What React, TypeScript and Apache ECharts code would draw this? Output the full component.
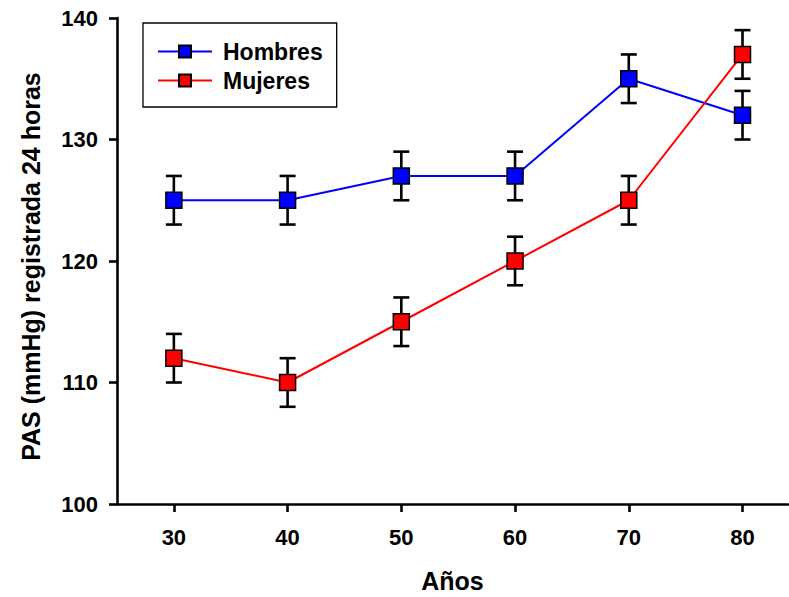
import React, { useEffect, useRef } from "react";
import * as echarts from "echarts";

const ages = [30, 40, 50, 60, 70, 80];
const hombres = [125, 125, 127, 127, 135, 132];
const hombresErr = [2, 2, 2, 2, 2, 2];
const mujeres = [112, 110, 115, 120, 125, 137];
const mujeresErr = [2, 2, 2, 2, 2, 2];
const yTicks = [100, 110, 120, 130, 140];

const FONT = "'Liberation Sans', Arial, sans-serif";

function errorSeries(name: string, vals: number[], errs: number[]) {
  const data = ages.map((a, i) => [a, vals[i] - errs[i], vals[i] + errs[i]]);
  return {
    type: "custom",
    name: name + "_err",
    z: 1,
    silent: true,
    data,
    encode: { x: 0, y: [1, 2] },
    renderItem: (params: any, api: any) => {
      const x = api.value(0);
      const lo = api.coord([x, api.value(1)]);
      const hi = api.coord([x, api.value(2)]);
      const w = 8;
      const style = { stroke: "#000", lineWidth: 2.6 };
      return {
        type: "group",
        children: [
          { type: "line", shape: { x1: lo[0], y1: lo[1], x2: hi[0], y2: hi[1] }, style },
          { type: "line", shape: { x1: lo[0] - w, y1: lo[1], x2: lo[0] + w, y2: lo[1] }, style },
          { type: "line", shape: { x1: hi[0] - w, y1: hi[1], x2: hi[0] + w, y2: hi[1] }, style },
        ],
      };
    },
  };
}

export default function App() {
  const ref = useRef<HTMLDivElement>(null);
  useEffect(() => {
    const chart = echarts.init(ref.current!, null, { renderer: "svg" });
    chart.setOption({
      animation: false,
      backgroundColor: "#fff",
      grid: { left: 117, top: 18, right: 1, bottom: 93, containLabel: false, outerBoundsMode: "none" },
      legend: {
        orient: "vertical",
        left: 143,
        top: 23,
        data: ["Hombres", "Mujeres"],
        borderColor: "#000",
        borderWidth: 1.3,
        padding: [17, 14, 15, 14],
        itemGap: 6,
        itemWidth: 54,
        itemHeight: 15,
        textStyle: { fontFamily: FONT, fontWeight: "bold", fontSize: 23, color: "#000", padding: [0, 0, 0, 6] },
      },
      xAxis: {
        type: "value",
        min: 25,
        max: 84,
        name: "Años",
        nameLocation: "middle",
        nameGap: 64,
        nameTextStyle: { fontFamily: FONT, fontWeight: "bold", fontSize: 25, color: "#000" },
        axisLine: { show: true, onZero: false, lineStyle: { color: "#000", width: 2.6 } },
        axisTick: { show: true, customValues: ages, length: 8, lineStyle: { color: "#000", width: 2.6 } },
        axisLabel: { customValues: ages, margin: 22, fontFamily: FONT, fontWeight: "bold", fontSize: 22, color: "#000" },
        splitLine: { show: false },
      },
      yAxis: {
        type: "value",
        min: 100,
        max: 140,
        interval: 10,
        name: "PAS (mmHg) registrada 24 horas",
        nameLocation: "middle",
        nameGap: 74,
        nameTextStyle: { fontFamily: FONT, fontWeight: "bold", fontSize: 25, color: "#000", padding: [0, 11, 0, 0] },
        axisLine: { show: true, lineStyle: { color: "#000", width: 2.6 } },
        axisTick: { show: true, customValues: yTicks, length: 8, lineStyle: { color: "#000", width: 2.6 } },
        axisLabel: { margin: 19, fontFamily: FONT, fontWeight: "bold", fontSize: 22, color: "#000" },
        splitLine: { show: false },
      },
      series: [
        errorSeries("Hombres", hombres, hombresErr),
        errorSeries("Mujeres", mujeres, mujeresErr),
        {
          type: "line",
          name: "Hombres",
          z: 3,
          data: ages.map((a, i) => [a, hombres[i]]),
          symbol: "rect",
          symbolSize: 16,
          lineStyle: { color: "#0000ff", width: 2 },
          itemStyle: { color: "#0000ff", borderColor: "#000", borderWidth: 1.5 },
        },
        {
          type: "line",
          name: "Mujeres",
          z: 3,
          data: ages.map((a, i) => [a, mujeres[i]]),
          symbol: "rect",
          symbolSize: 16,
          lineStyle: { color: "#ff0000", width: 2 },
          itemStyle: { color: "#ff0000", borderColor: "#000", borderWidth: 1.5 },
        },
      ],
    });
    return () => chart.dispose();
  }, []);
  return <div ref={ref} style={{ width: 789, height: 597, position: "absolute", left: 0, top: 0 }} />;
}
